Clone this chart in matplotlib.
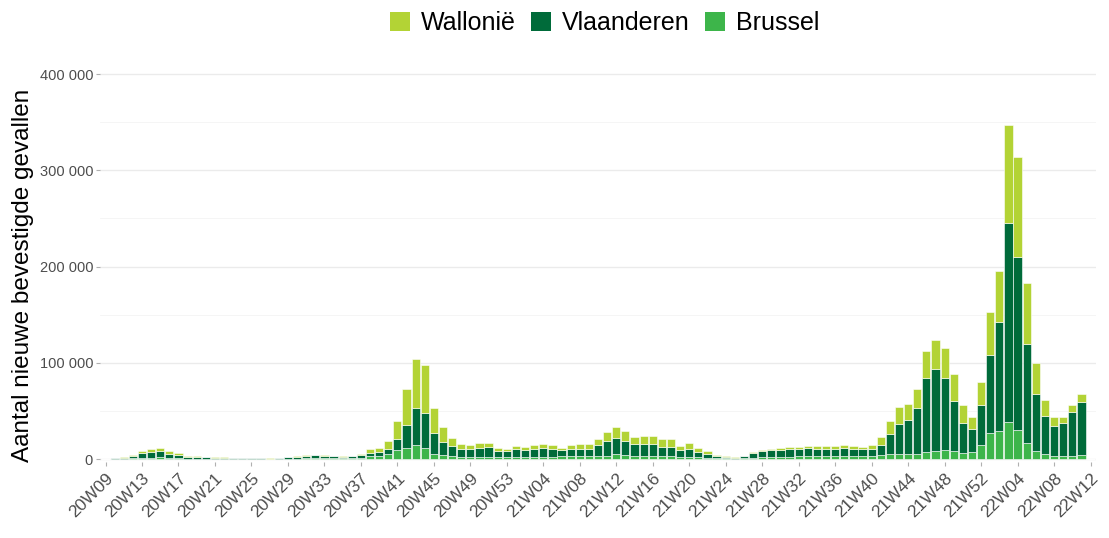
import matplotlib
import numpy as np
import matplotlib.pyplot as plt
from matplotlib.patches import Patch
from matplotlib.ticker import FuncFormatter, MultipleLocator

matplotlib.use('Agg')
plt.rcParams['font.family'] = ['Liberation Sans', 'DejaVu Sans']

weeks = ([f'20W{w:02d}' for w in range(9, 54)]
         + [f'21W{w:02d}' for w in range(1, 53)]
         + [f'22W{w:02d}' for w in range(1, 13)])

brussel = [
    50, 200, 400, 700, 1400, 1600, 1800, 1300, 1000, 600,
    600, 400, 400, 300, 300, 200, 200, 200, 150, 200,
    400, 600, 800, 1000, 900, 800, 700, 800, 1300, 3100,
    3500, 4800, 9300, 11100, 14900, 11100, 5500, 3800, 3100, 2400,
    2400, 2400, 2400, 2100, 2100, 2400, 2400, 2400, 2400, 2400,
    3000, 3100, 3100, 3100, 3100, 3500, 4800, 4100, 3500, 3500,
    3500, 3100, 3100, 2400, 2400, 1800, 1400, 1000, 700, 500,
    700, 1400, 1700, 1800, 1800, 2000, 3300, 3100, 3100, 3000,
    3000, 3300, 2900, 2800, 3000, 3800, 5200, 5200, 4800, 5500,
    7300, 8700, 9300, 8700, 6600, 7600, 14500, 26600, 29400, 38400,
    30100, 17000, 8300, 4800, 3100, 3100, 3500, 3800, 0,
]

vlaanderen = [
    100, 500, 1100, 2200, 4800, 5500, 6300, 4400, 3400, 2000,
    2000, 1400, 1200, 1000, 800, 700, 550, 500, 450, 500,
    1300, 1800, 2500, 3100, 2600, 2200, 1800, 2000, 2900, 3500,
    4200, 5500, 11100, 23900, 38400, 36300, 21100, 14200, 10000, 8000,
    8000, 9000, 9700, 6600, 5900, 7600, 6900, 8300, 9000, 7900,
    6000, 7300, 7900, 7600, 11100, 15600, 16600, 14200, 11800, 11800,
    12100, 9700, 9700, 6900, 8300, 5500, 3800, 2200, 1500, 1100,
    2100, 4500, 6600, 7200, 7900, 8700, 7300, 8000, 7600, 7300,
    7300, 7800, 7400, 7200, 8000, 10700, 20800, 31100, 35300, 47700,
    77200, 85300, 75000, 52000, 31100, 23500, 41200, 81300, 113100, 207300,
    179900, 102100, 59500, 40100, 31100, 33900, 45300, 55000, 0,
]

wallonie = [
    50, 300, 600, 1200, 2400, 2900, 3000, 2300, 1800, 900,
    900, 600, 500, 400, 300, 300, 250, 200, 200, 200,
    300, 400, 500, 600, 600, 600, 600, 700, 1300, 3400,
    3700, 8700, 18700, 37300, 51200, 50500, 26000, 15600, 9000, 5200,
    4500, 4900, 4800, 3100, 2400, 3500, 3500, 3800, 4500, 4200,
    2800, 4200, 4800, 5200, 6600, 9300, 11800, 11100, 8000, 8300,
    8000, 7600, 7600, 4800, 5500, 4500, 3500, 1000, 600, 500,
    700, 1000, 1000, 1400, 1400, 1400, 2200, 2400, 2800, 2800,
    2800, 3100, 2800, 2800, 3500, 8000, 13800, 18000, 17000, 19400,
    27700, 30100, 31500, 27300, 18700, 13100, 24600, 44600, 52600, 101400,
    104100, 63700, 32200, 17000, 9700, 6900, 7600, 8700, 0,
]

tick_labels = ['20W09', '20W13', '20W17', '20W21', '20W25', '20W29', '20W33',
               '20W37', '20W41', '20W45', '20W49', '20W53', '21W04', '21W08',
               '21W12', '21W16', '21W20', '21W24', '21W28', '21W32', '21W36',
               '21W40', '21W44', '21W48', '21W52', '22W04', '22W08', '22W12']

colors = {'Wallonië': '#b3d335', 'Vlaanderen': '#006b3a', 'Brussel': '#3db54a'}

x = np.arange(len(weeks))
b = np.array(brussel)
v = np.array(vlaanderen)
w = np.array(wallonie)

fig = plt.figure(figsize=(11.09, 5.38), dpi=100)
ax = fig.add_axes([0.0902, 0.1413, 0.8981, 0.7479])

kw = dict(width=0.9, edgecolor='white', linewidth=0.4, zorder=3)
ax.bar(x, b, color=colors['Brussel'], **kw)
ax.bar(x, v, bottom=b, color=colors['Vlaanderen'], **kw)
ax.bar(x, w, bottom=b + v, color=colors['Wallonië'], **kw)

ax.set_xlim(-0.6, len(weeks) - 0.4)
ax.set_ylim(-3000, 415000)

ax.yaxis.set_major_locator(MultipleLocator(100000))
ax.yaxis.set_minor_locator(MultipleLocator(50000))
ax.yaxis.set_major_formatter(FuncFormatter(lambda val, pos: f'{int(val):,}'.replace(',', ' ')))
ax.grid(axis='y', which='major', color='#ebebeb', linewidth=1.0, zorder=0)
ax.grid(axis='y', which='minor', color='#f4f4f4', linewidth=0.6, zorder=0)
ax.grid(axis='x', visible=False)

ticks = [weeks.index(t) for t in tick_labels]
ax.set_xticks(ticks)
ax.set_xticklabels(tick_labels, rotation=45, ha='right', va='top',
                   rotation_mode='anchor', fontsize=12.5, color='#4d4d4d')
ax.tick_params(axis='x', length=3, color='#b0b0b0', pad=3)
ax.tick_params(axis='y', which='major', length=3, color='#b0b0b0', pad=2,
               labelsize=10.5, labelcolor='#4d4d4d')
ax.tick_params(axis='y', which='minor', length=0)

for s in ax.spines.values():
    s.set_visible(False)

ax.set_ylabel('Aantal nieuwe bevestigde gevallen', fontsize=17.5, color='black')
ax.yaxis.set_label_coords(-0.066, 0.465)

handles = [Patch(facecolor=colors[k], edgecolor='none') for k in ['Wallonië', 'Vlaanderen', 'Brussel']]
fig.legend(handles, ['Wallonië', 'Vlaanderen', 'Brussel'], loc='center',
           bbox_to_anchor=(0.545, 0.957), ncol=3, frameon=False, fontsize=18,
           handlelength=0.8, handleheight=0.8, handletextpad=0.45, columnspacing=0.6)

fig.savefig('out.png', dpi=100)
